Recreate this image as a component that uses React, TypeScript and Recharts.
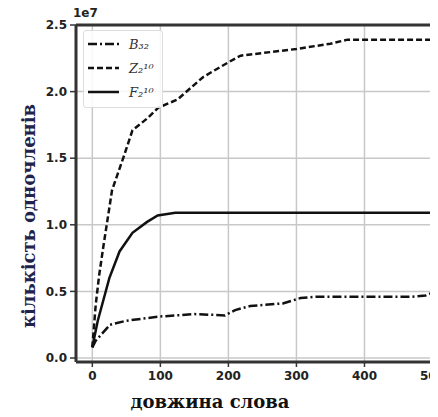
import React from "react";
import { LineChart, Line, XAxis, YAxis, CartesianGrid, ReferenceLine } from "recharts";

// word length (x) and number of monomials (y, in units of 1e7)
const bX = [0, 5, 12, 26, 50, 96, 150, 195, 210, 232, 280, 306, 330, 470, 490, 510];
const bY = [0.08, 0.13, 0.17, 0.25, 0.28, 0.31, 0.33, 0.32, 0.36, 0.39, 0.41, 0.45, 0.46, 0.46, 0.47, 0.51];

const zX = [0, 5, 10, 16, 29, 46, 59, 81, 97, 125, 163, 200, 218, 300, 350, 375, 510];
const zY = [0.08, 0.4, 0.62, 0.83, 1.26, 1.51, 1.71, 1.8, 1.88, 1.94, 2.11, 2.22, 2.27, 2.32, 2.36, 2.39, 2.39];

const fX = [0, 8, 25, 40, 59, 80, 96, 122, 510];
const fY = [0.08, 0.28, 0.6, 0.8, 0.94, 1.02, 1.07, 1.09, 1.09];

const xTicks = [0, 100, 200, 300, 400, 500];
const yTicks = [0, 0.5, 1.0, 1.5, 2.0, 2.5];

const seriesNames = ["B₃₂", "Z₂¹⁰", "F₂¹⁰"];
const dashes = ["9 3 2 3", "6 3", undefined];

const toPts = (xs: number[], ys: number[]) => xs.map((x, i) => ({ x, y: ys[i] }));
const bData = toPts(bX, bY);
const zData = toPts(zX, zY);
const fData = toPts(fX, fY);

const tickStyle = { fontFamily: "DejaVu Sans", fontSize: 12, fill: "#222", fontWeight: 600 };

export default function App() {
  return (
    <div style={{ position: "relative", width: 438, height: 417, margin: "-8px 0 0 -8px", overflow: "hidden", background: "#fff" }}>
      <LineChart width={470} height={417} margin={{ top: 25, right: 13, left: 0, bottom: 25 }}>
        <CartesianGrid stroke="#c8c8c8" strokeWidth={1.5} horizontalValues={yTicks} verticalValues={xTicks} />
        <XAxis
          type="number"
          dataKey="x"
          domain={[-24, 536]}
          ticks={xTicks}
          allowDataOverflow
          height={30}
          tickSize={5}
          tickMargin={4}
          tick={tickStyle}
          axisLine={{ stroke: "#333", strokeWidth: 3 }}
          tickLine={{ stroke: "#333", strokeWidth: 1.5 }}
        />
        <YAxis
          type="number"
          dataKey="y"
          domain={[-0.03, 2.5]}
          ticks={yTicks}
          allowDataOverflow
          width={76}
          tickSize={6}
          tickMargin={3}
          tickFormatter={(v: number) => v.toFixed(1)}
          tick={tickStyle}
          axisLine={{ stroke: "#333", strokeWidth: 3 }}
          tickLine={{ stroke: "#333", strokeWidth: 1.5 }}
        />
        <ReferenceLine y={2.5} stroke="#333" strokeWidth={3} />
        <Line data={bData} dataKey="y" stroke="#111" strokeWidth={2.5} strokeDasharray={dashes[0]} dot={false} isAnimationActive={false} />
        <Line data={zData} dataKey="y" stroke="#111" strokeWidth={2.5} strokeDasharray={dashes[1]} dot={false} isAnimationActive={false} />
        <Line data={fData} dataKey="y" stroke="#111" strokeWidth={2.5} dot={false} isAnimationActive={false} />
      </LineChart>

      {/* offset text */}
      <div style={{ position: "absolute", left: 73, top: 6, fontFamily: "DejaVu Sans", fontSize: 12, fontWeight: 600, color: "#222" }}>1e7</div>

      {/* legend */}
      <div style={{ position: "absolute", left: 83, top: 30, width: 80, height: 78, border: "1px solid #ddd", borderRadius: 3, background: "rgba(255,255,255,0.85)", boxSizing: "border-box" }}>
        {seriesNames.map((name, i) => (
          <div key={name} style={{ position: "absolute", left: 4, top: 5 + i * 24, height: 16, display: "flex", alignItems: "center" }}>
            <svg width={32} height={16}>
              <line x1={0} y1={8} x2={31} y2={8} stroke="#111" strokeWidth={2.5} strokeDasharray={dashes[i]} />
            </svg>
            <span style={{ marginLeft: 9, fontFamily: "DejaVu Serif", fontStyle: "italic", fontSize: 13, color: "#333" }}>{name}</span>
          </div>
        ))}
      </div>

      {/* axis labels */}
      <div style={{ position: "absolute", left: 110, top: 391, width: 200, textAlign: "center", fontFamily: "DejaVu Serif", fontWeight: 700, fontSize: 18, color: "#111", whiteSpace: "nowrap" }}>
        довжина слова
      </div>
      <div style={{ position: "absolute", left: 28, top: 216, width: 0, height: 0 }}>
        <div style={{ position: "absolute", transform: "translate(-50%, -50%) rotate(-90deg)", whiteSpace: "nowrap", fontFamily: "DejaVu Serif", fontWeight: 700, fontSize: 18, color: "#22224a" }}>
          кількість одночленів
        </div>
      </div>
    </div>
  );
}
